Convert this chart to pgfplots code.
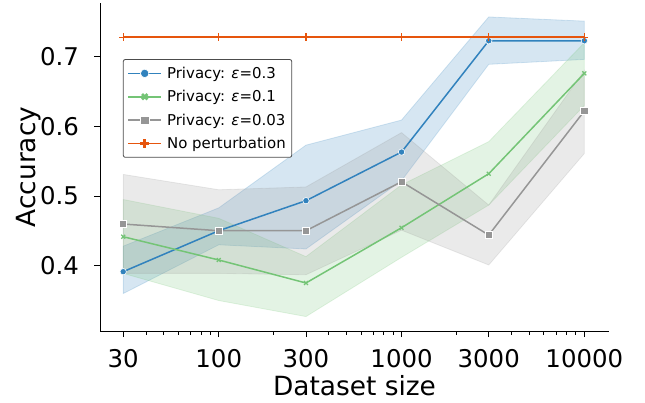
\documentclass[border=0pt]{standalone}
\usepackage{fontspec}
\setmainfont{DejaVu Sans}
\usepackage{pgfplots}
\pgfplotsset{compat=1.18}
\definecolor{cblue}{HTML}{3182BD}
\definecolor{cgreen}{HTML}{74C476}
\definecolor{cgray}{HTML}{969696}
\definecolor{corange}{HTML}{E6550D}
\pgfplotsset{
  myleg/.style 2 args={legend image code/.code={%
    \draw[#1, line width=1.8bp] (0bp,0bp) -- (33bp,0bp);
    \path[#2] plot coordinates {(16.5bp,0bp)};}},
}
\begin{document}
\begin{tikzpicture}
\useasboundingbox (-100bp,-72bp) rectangle (545bp,331bp);
\begin{axis}[
  at={(0,0)}, anchor=south west,
  scale only axis, width=509bp, height=328bp,
  xmode=log, xmin=22.4, xmax=13650, ymin=0.3063, ymax=0.777,
  axis x line*=bottom, axis y line*=left,
  axis line style={-, line width=1bp, black},
  xtick={30,100,300,1000,3000,10000},
  xticklabels={30,100,300,1000,3000,10000},
  minor xtick={40,50,60,70,80,90,200,400,500,600,700,800,900,2000,4000,5000,6000,7000,8000,9000},
  ytick={0.4,0.5,0.6,0.7},
  yticklabels={0.4,0.5,0.6,0.7},
  tick align=outside, major tick length=6bp, minor tick length=3.5bp,
  every tick/.style={black, line width=0.9bp},
  tick label style={font=\fontsize{24.5}{29}\selectfont},
  xticklabel style={anchor=north, inner sep=0pt, yshift=-12bp},
  yticklabel style={anchor=east, inner sep=0pt, xshift=-15bp},
  label style={font=\fontsize{26.5}{31}\selectfont},
  xlabel={Dataset size}, ylabel={Accuracy},
  xlabel style={at={(axis description cs:0.5,-0.196)}, anchor=base, inner sep=0pt},
  ylabel style={at={(axis description cs:-0.1277,0.5)}, anchor=base, inner sep=0pt},
  legend style={at={(0.045,0.829)}, anchor=north west,
    font=\fontsize{15}{17}\selectfont, draw=black!70, rounded corners=2bp,
    line width=0.8bp, row sep=6.5bp, column sep=3bp, inner xsep=4bp, inner ysep=5.5bp},
  legend cell align=left,
]
% bands
\addplot[forget plot, draw=cblue, fill=cblue, opacity=0.2, line width=0.8bp] coordinates {
 (30,0.428) (100,0.483) (300,0.573) (1000,0.609) (3000,0.757) (10000,0.751)
 (10000,0.696) (3000,0.689) (1000,0.522) (300,0.424) (100,0.430) (30,0.360)} -- cycle;
\addplot[forget plot, draw=cgreen, fill=cgreen, opacity=0.2, line width=0.8bp] coordinates {
 (30,0.495) (100,0.468) (300,0.413) (1000,0.516) (3000,0.578) (10000,0.720)
 (10000,0.630) (3000,0.487) (1000,0.412) (300,0.327) (100,0.350) (30,0.389)} -- cycle;
\addplot[forget plot, draw=cgray, fill=cgray, opacity=0.2, line width=0.8bp] coordinates {
 (30,0.531) (100,0.509) (300,0.513) (1000,0.591) (3000,0.487) (10000,0.680)
 (10000,0.561) (3000,0.401) (1000,0.451) (300,0.387) (100,0.389) (30,0.389)} -- cycle;
% lines
\addplot[forget plot, cblue, line width=1.5bp, mark=*, mark size=3.2bp, mark options={draw=white, line width=0.6bp, fill=cblue}] coordinates {
 (30,0.3914) (100,0.4502) (300,0.4933) (1000,0.5631) (3000,0.7228) (10000,0.7228)};
\addplot[forget plot, cgreen, line width=1.5bp, mark=x, mark size=2.8bp, mark options={line width=1.2bp}] coordinates {
 (30,0.4416) (100,0.4082) (300,0.3752) (1000,0.4545) (3000,0.532) (10000,0.676)};
\addplot[forget plot, cgray, line width=1.5bp, mark=square*, mark size=3.6bp, mark options={draw=white, line width=0.6bp, fill=cgray}] coordinates {
 (30,0.4598) (100,0.4502) (300,0.4502) (1000,0.5205) (3000,0.444) (10000,0.622)};
\addplot[forget plot, corange, line width=1.5bp, mark=+, mark size=3.8bp, mark options={line width=1.2bp}] coordinates {
 (30,0.728) (100,0.728) (300,0.728) (1000,0.728) (3000,0.728) (10000,0.728)};
% legend
\addlegendimage{myleg={cblue}{mark=*, mark size=4.2bp, mark options={fill=cblue, draw=white, line width=0.6bp}}}
\addlegendentry{Privacy: \textit{ε}=0.3}
\addlegendimage{myleg={cgreen}{mark=x, mark size=3.8bp, mark options={draw=cgreen, line width=2.6bp}}}
\addlegendentry{Privacy: \textit{ε}=0.1}
\addlegendimage{myleg={cgray}{mark=square*, mark size=4.2bp, mark options={fill=cgray, draw=white, line width=0.6bp}}}
\addlegendentry{Privacy: \textit{ε}=0.03}
\addlegendimage{myleg={corange}{mark=+, mark size=4.4bp, mark options={draw=corange, line width=2.6bp}}}
\addlegendentry{No perturbation}
\end{axis}
\end{tikzpicture}
\end{document}
